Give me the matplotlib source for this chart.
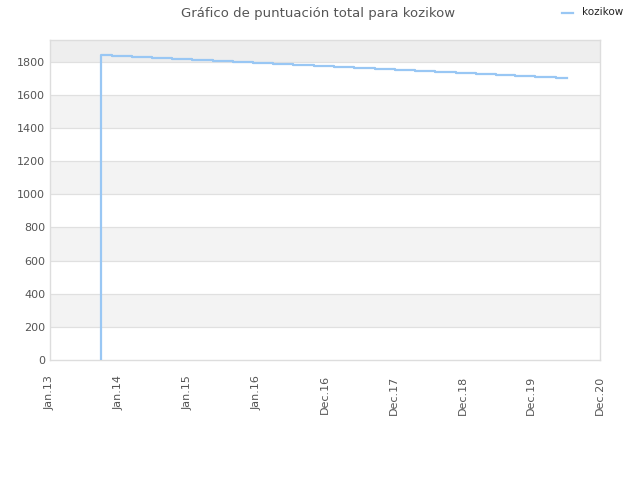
"""Step chart of the total score for kozikow."""

import matplotlib

matplotlib.use("Agg")
import matplotlib.pyplot as plt  # noqa: E402
from matplotlib.lines import Line2D  # noqa: E402

TICK_LABELS = ["Jan.13", "Jan.14", "Jan.15", "Jan.16", "Dec.16",
               "Dec.17", "Dec.18", "Dec.19", "Dec.20"]
# x positions in tick units (one unit per labelled tick)
STEP_X = [0.742, 0.898, 1.189, 1.480, 1.771, 2.062, 2.367, 2.658, 2.949,
          3.240, 3.540, 3.840, 4.130, 4.420, 4.720, 5.020, 5.310, 5.600,
          5.900, 6.190, 6.480, 6.770, 7.060, 7.360]
STEP_END = 7.516
SCORES = [1837, 1831, 1825, 1819, 1813, 1807, 1801, 1795, 1789, 1783,
          1778, 1772, 1766, 1760, 1754, 1748, 1742, 1736, 1730, 1724,
          1718, 1712, 1706, 1700]
Y_TICKS = [0, 200, 400, 600, 800, 1000, 1200, 1400, 1600, 1800]
Y_TOP = 1930

LINE_COLOR = "#99c7f4"
TEXT_COLOR = "#555555"


def main() -> None:
    fig = plt.figure(figsize=(6.4, 4.8), dpi=100)
    ax = fig.add_axes([50 / 640, 120 / 480, 550 / 640, 320 / 480])

    # alternating horizontal bands
    for i, low in enumerate(Y_TICKS):
        high = Y_TICKS[i + 1] if i + 1 < len(Y_TICKS) else Y_TOP
        if i % 2 == 1:
            shade = "#eeeeee" if high == Y_TOP else "#f3f3f3"
            ax.axhspan(low, high, color=shade, zorder=0, linewidth=0)
    for y in Y_TICKS[1:]:
        ax.axhline(y, color="#e0e0e0", linewidth=0.9, zorder=1)

    xs = [STEP_X[0]] + STEP_X + [STEP_END]
    ys = [0] + SCORES + [SCORES[-1]]
    ax.step(xs, ys, where="post", color=LINE_COLOR, linewidth=1.6, zorder=3)

    ax.set_xlim(0, len(TICK_LABELS) - 1)
    ax.set_ylim(0, Y_TOP)
    ax.set_xticks(range(len(TICK_LABELS)))
    ax.set_xticklabels(TICK_LABELS, rotation=90)
    ax.set_yticks(Y_TICKS)
    ax.tick_params(axis="both", length=0, labelsize=8, labelcolor=TEXT_COLOR)
    ax.tick_params(axis="x", pad=11)
    for spine in ax.spines.values():
        spine.set_color("#dddddd")
        spine.set_linewidth(1.0)

    fig.text(318 / 640, 1 - 13 / 480, "Gráfico de puntuación total para kozikow",
             ha="center", va="center", fontsize=9.5, color=TEXT_COLOR)
    fig.lines.append(Line2D([562 / 640, 573 / 640], [1 - 13 / 480, 1 - 13 / 480],
                            transform=fig.transFigure, color=LINE_COLOR,
                            linewidth=1.6))
    fig.text(582 / 640, 1 - 12 / 480, "kozikow", ha="left", va="center",
             fontsize=7.5, color="#222222")

    fig.savefig("out.png", dpi=100)
    plt.close(fig)


if __name__ == "__main__":
    main()
